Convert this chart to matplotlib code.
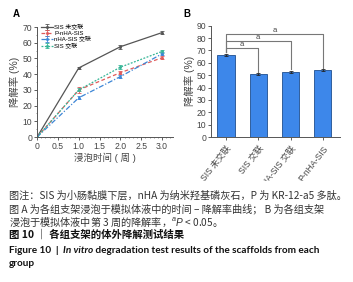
import matplotlib
matplotlib.use("Agg")
import matplotlib.pyplot as plt
from matplotlib.ticker import MultipleLocator
from matplotlib.transforms import Bbox, TransformedBbox, IdentityTransform

plt.rcParams["font.family"] = ["Liberation Sans", "Noto Sans CJK SC", "DejaVu Sans"]
plt.rcParams["mathtext.fontset"] = "custom"
plt.rcParams["mathtext.it"] = "Liberation Sans:italic"
plt.rcParams["mathtext.rm"] = "Liberation Sans"

# panel A data: degradation rate over time
weeks = [0, 1.0, 2.0, 3.0]
sis_raw = [0, 44, 57.5, 66.5]
sis_raw_err = [0, 0.8, 1.2, 1.2]
p_nha_sis = [0, 30, 41, 50.5]
p_nha_sis_err = [0, 2.0, 1.0, 1.0]
nha_sis = [0, 25, 38.5, 53]
nha_sis_err = [0, 1.0, 1.0, 1.0]
sis_cross = [0, 30, 44.5, 54.5]
sis_cross_err = [0, 1.0, 1.5, 1.2]
line_labels = ["SIS 未交联", "P-nHA-SIS", "nHA-SIS 交联", "SIS 交联"]

# panel B data: degradation at week 3
groups = ["SIS 未交联", "SIS 交联", "nHA-SIS 交联", "P-nHA-SIS"]
week3 = [66.5, 50.6, 52.8, 54.2]
week3_err = [1.0, 0.8, 0.8, 0.8]
bracket_heights = [71.7, 77.6, 83.3]

fig = plt.figure(figsize=(3.53, 2.82), dpi=100)
fig.patch.set_facecolor("white")
gray = "#444444"

# ---- panel A ----
ax = fig.add_axes([0.105, 0.514, 0.385, 0.39])
styles = [
    (sis_raw, sis_raw_err, "#555555", "-"),
    (p_nha_sis, p_nha_sis_err, "#e05a5a", (0, (3, 2))),
    (nha_sis, nha_sis_err, "#3d86d6", (0, (4, 1.5, 1, 1.5))),
    (sis_cross, sis_cross_err, "#35b596", (0, (1.5, 1.2))),
]
for (vals, errs, col, ls), lab in zip(styles, line_labels):
    ax.errorbar(weeks, vals, yerr=errs, color=col, linestyle=ls, linewidth=0.9,
                marker="s", markersize=1.0, capsize=1.2, elinewidth=0.6,
                capthick=0.6, label=lab)
ax.set_xlim(0, 3.26)
ax.set_ylim(0, 70)
ax.set_xticks([0, 0.5, 1.0, 1.5, 2.0, 2.5, 3.0])
ax.set_xticklabels(["0", "0.5", "1.0", "1.5", "2.0", "2.5", "3.0"])
ax.set_yticks(range(0, 71, 10))
ax.xaxis.set_minor_locator(MultipleLocator(0.1))
ax.yaxis.set_minor_locator(MultipleLocator(5))
for s in ["top", "right"]:
    ax.spines[s].set_visible(False)
for s in ["left", "bottom"]:
    ax.spines[s].set_color("#555555")
    ax.spines[s].set_linewidth(0.7)
ax.tick_params(labelsize=6.2, length=2, width=0.6, pad=1.5, colors=gray)
ax.tick_params(which="minor", length=1, width=0.4, colors=gray)
ax.set_xlabel("浸泡时间 ( 周 )", fontsize=6.8, labelpad=1, color=gray)
ax.set_ylabel("降解率 (%)", fontsize=7.5, labelpad=2, color=gray)
ax.legend(loc="upper left", bbox_to_anchor=(0.0, 1.06), fontsize=4.3,
          frameon=False, handlelength=2.0, handletextpad=0.3,
          labelspacing=0.05, borderpad=0.1)

# ---- panel B ----
bx = fig.add_axes([0.598, 0.514, 0.365, 0.395])
xs = range(len(groups))
bx.bar(xs, week3, width=0.53, color="#3d87ea", edgecolor="#1f4f8f",
       linewidth=0.6, yerr=week3_err, capsize=1.2,
       error_kw=dict(elinewidth=0.6, capthick=0.6, ecolor="#222222"))
bx.set_xlim(-0.46, 3.53)
bx.set_ylim(0, 90)
bx.set_yticks(range(0, 91, 10))
bx.set_xticks(list(xs))
bx.set_xticklabels(groups, rotation=52, ha="right", rotation_mode="anchor",
                   fontsize=6.8)
for s in ["top", "right"]:
    bx.spines[s].set_visible(False)
for s in ["left", "bottom"]:
    bx.spines[s].set_color("#555555")
    bx.spines[s].set_linewidth(0.7)
bx.tick_params(labelsize=6.2, length=2, width=0.6, pad=1.5, colors=gray)
bx.tick_params(axis="x", pad=3)
bx.set_ylabel("降解率 (%)", fontsize=7.5, labelpad=1, color=gray)

# the long rotated label is cut off above the caption, as in the source figure
clip = TransformedBbox(Bbox([[0, 282 - 181], [353, 282]]), IdentityTransform())
for lbl in bx.get_xticklabels():
    lbl.set_clip_box(clip)
    lbl.set_clip_on(True)

# significance brackets from the first bar
left_top = week3[0] + week3_err[0] + 1
for i, h in enumerate(bracket_heights):
    j = i + 1
    right_top = week3[j] + week3_err[j] + 1
    bx.plot([0, 0, j, j], [left_top, h, h, right_top], color="#777777",
            linewidth=0.8)
    bx.text(j / 2, h + 0.3, "a", ha="center", va="bottom", fontsize=5.5,
            color=gray)

# panel letters
fig.text(0.036, 0.95, "A", fontsize=7, fontweight="bold", va="center")
fig.text(0.52, 0.95, "B", fontsize=7, fontweight="bold", va="center")

# caption
cn = ["Noto Sans CJK SC", "DejaVu Sans"]
cap_col = "#333333"
fig.text(0.025, 1 - 195 / 282, "图注：SIS 为小肠黏膜下层，nHA 为纳米羟基磷灰石，P 为 KR-12-a5 多肽。",
         fontsize=7.3, color=cap_col, va="center", family=cn)
fig.text(0.025, 1 - 209 / 282, "图 A 为各组支架浸泡于模拟体液中的时间 – 降解率曲线； B 为各组支架",
         fontsize=7.3, color=cap_col, va="center", family=cn)
fig.text(0.025, 1 - 222 / 282, "浸泡于模拟体液中第 3 周的降解率，$^{a}\\mathit{P}$ < 0.05。",
         fontsize=7.3, color=cap_col, va="center", family=cn)
fig.text(0.025, 1 - 235 / 282, "图 10 ｜ 各组支架的体外降解测试结果",
         fontsize=7.5, fontweight="bold", color="#111111", va="center", family=cn)

en = ["Lato", "DejaVu Sans"]
y5 = 1 - 253 / 282
t1 = fig.text(0.025, y5, "Figure 10  |  ", fontsize=7.2, fontweight="bold",
              color="#111111", va="baseline", family=en)
fig.canvas.draw()
r = fig.canvas.get_renderer()
bb1 = t1.get_window_extent(r)
t2 = fig.text(bb1.x1 / fig.bbox.width, y5, "In vitro", fontsize=7.2,
              fontweight="bold", fontstyle="italic", color="#111111",
              va="baseline", family=en)
fig.canvas.draw()
bb2 = t2.get_window_extent(r)
fig.text(bb2.x1 / fig.bbox.width, y5,
         " degradation test results of the scaffolds from each", fontsize=7.2,
         fontweight="bold", color="#111111", va="baseline", family=en)
fig.text(0.025, 1 - 266 / 282, "group", fontsize=7.2, fontweight="bold",
         color="#111111", va="baseline", family=en)

fig.savefig("out.png", dpi=100)
